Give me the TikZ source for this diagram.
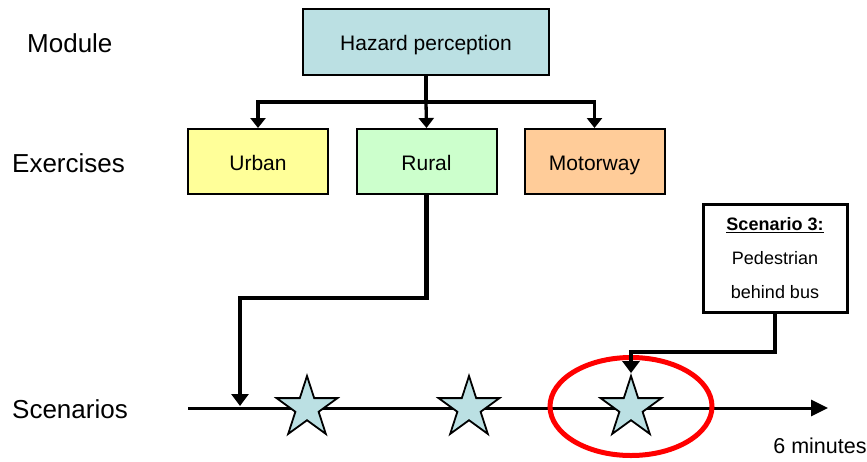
\documentclass[tikz,border=0pt]{standalone}
\usepackage{fontspec}
\setmainfont{Liberation Sans}
\usetikzlibrary{arrows.meta,shapes.geometric}
\definecolor{hazblue}{HTML}{BBE0E3}
\definecolor{urbany}{HTML}{FFFF99}
\definecolor{ruralg}{HTML}{CCFFCC}
\definecolor{motoro}{HTML}{FFCC99}
\begin{document}
\begin{tikzpicture}[x=1pt,y=-1pt,line join=miter,
  box/.style={draw=black, line width=2pt, minimum width=140pt, minimum height=65pt,
    font=\fontsize{21}{25}\selectfont, inner sep=0, text height=17pt, text depth=0pt},
  lbl/.style={font=\fontsize{26}{30}\selectfont, anchor=west, inner sep=0,
    text height=18.6pt, text depth=0pt},
  conn/.style={line width=3.3pt, -{Triangle[width=15pt,length=10pt]}},
  bigconn/.style={line width=4.5pt, -{Triangle[width=17pt,length=12pt]}},
  starnode/.style={star, star points=5, star point ratio=2.618, draw=black,
    line width=1.8pt, fill=hazblue, minimum size=64pt, inner sep=0}]
\useasboundingbox (0,0) rectangle (867,461);

% row labels
\node[lbl] (lmod) at (27,43) {Module};
\node[lbl] (lex) at (12,163) {Exercises};
\node[lbl] (lsc) at (12,409) {Scenarios};

% boxes
\node[box, fill=hazblue, minimum width=246pt, minimum height=66pt] (haz) at (426,42) {Hazard perception};
\node[box, fill=urbany] (urban) at (258,161.5) {Urban};
\node[box, fill=ruralg] (rural) at (426.5,161.5) {Rural};
\node[box, fill=motoro] (moto) at (594.5,161.5) {Motorway};

% tree connectors
\coordinate (j) at (426,102);
\draw[line width=3.3pt] (haz.south) -- (j);
\draw[conn] (j) -| (urban.north);
\draw[conn] (j) -- (rural.north);
\draw[conn] (j) -| (moto.north);

% timeline
\coordinate (tl0) at (188,408);
\coordinate (tl1) at (828,408);
\draw[line width=3pt, -{Triangle[width=16pt,length=17pt]}] (tl0) -- (tl1);

% stars
\node[starnode] (s1) at (307,408) {};
\node[starnode] (s2) at (469,408) {};
\node[starnode] (s3) at (631,408) {};

% red ellipse
\draw[red, line width=5pt] (631,406.5) ellipse [x radius=81, y radius=49];

% rural to timeline
\coordinate (t1) at (240,406);
\draw[bigconn] (rural.south) -- (rural.south |- 0,298) -| (t1);

% scenario box
\node[draw=black, line width=3pt, minimum width=144pt, minimum height=108pt, inner sep=0,
  align=center, font=\fontsize{18}{34}\selectfont] (sc) at (775,258)
  {\underline{\textbf{Scenario 3:}}\\Pedestrian\\behind bus};
\draw[bigconn] (sc.south) -- (sc.south |- 0,352) -| (s3.north);

% end label
\node[font=\fontsize{21.5}{25}\selectfont, inner sep=0] (six) at (820,446) {6 minutes};
\end{tikzpicture}
\end{document}
